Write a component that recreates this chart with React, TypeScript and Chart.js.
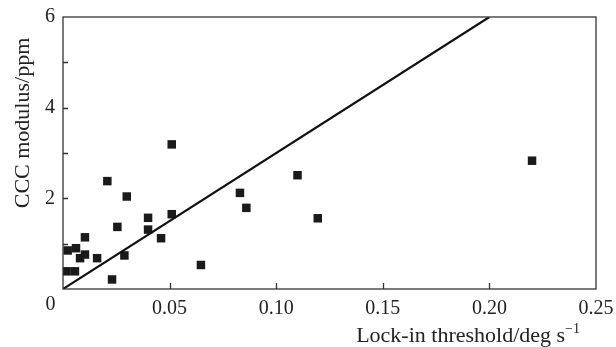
import React, { useEffect, useRef } from "react";
import { Chart, registerables } from "chart.js";

Chart.register(...registerables);

const lockInThreshold = [
  0.0022, 0.0061, 0.0017, 0.0056, 0.0103, 0.008, 0.0103, 0.016, 0.0208, 0.023,
  0.0255, 0.0288, 0.0299, 0.0399, 0.0399, 0.046, 0.051, 0.051, 0.0647, 0.083,
  0.086, 0.11, 0.1195, 0.22,
];
const cccModulus = [
  0.85, 0.9, 0.39, 0.39, 1.14, 0.68, 0.76, 0.68, 2.38, 0.21,
  1.37, 0.74, 2.04, 1.57, 1.31, 1.12, 3.19, 1.65, 0.53, 2.12,
  1.79, 2.51, 1.56, 2.83,
];
const fitLineX = [0, 0.2];
const fitLineY = [0, 6];
const xTickValues = [0.05, 0.1, 0.15, 0.2, 0.25];
const yLabelValues = [2, 4, 6];
const yTickMarks = [1, 2, 3, 4, 5];
const xTickMarks = [0.05, 0.1, 0.15, 0.2];
const xTitle = "Lock-in threshold/deg s";
const xTitleSup = "\u22121";
const yTitle = "CCC modulus/ppm";

const FONT = "'Liberation Serif', 'Times New Roman', serif";
const INK = "#1a1a1a";

const framePlugin = {
  id: "frame",
  afterDraw(chart: any) {
    const { ctx, chartArea: a, scales } = chart;
    const xs = scales.x;
    const ys = scales.y;
    ctx.save();
    ctx.strokeStyle = "#333";
    ctx.lineWidth = 1.3;
    ctx.strokeRect(a.left, a.top, a.right - a.left, a.bottom - a.top);
    ctx.beginPath();
    for (const v of yTickMarks) {
      const y = Math.round(ys.getPixelForValue(v)) + 0.5;
      ctx.moveTo(a.left, y);
      ctx.lineTo(a.left + 5, y);
    }
    for (const v of xTickMarks) {
      const x = Math.round(xs.getPixelForValue(v)) + 0.5;
      ctx.moveTo(x, a.bottom);
      ctx.lineTo(x, a.bottom - 6);
    }
    ctx.stroke();

    ctx.fillStyle = "#222";
    ctx.font = `20px ${FONT}`;
    ctx.textAlign = "center";
    ctx.textBaseline = "middle";
    ctx.fillText("0", a.left - 12.5, a.bottom + 16);

    // y title
    ctx.save();
    ctx.translate(23, 123);
    ctx.rotate(-Math.PI / 2);
    ctx.font = `22px ${FONT}`;
    ctx.textAlign = "center";
    ctx.textBaseline = "middle";
    ctx.fillText(yTitle, 0, 0);
    ctx.restore();

    // x title
    ctx.font = `22px ${FONT}`;
    const mainW = ctx.measureText(xTitle).width;
    ctx.font = `14px ${FONT}`;
    const supW = ctx.measureText(xTitleSup).width;
    const right = 580;
    const base = 342;
    ctx.textAlign = "left";
    ctx.textBaseline = "alphabetic";
    ctx.font = `22px ${FONT}`;
    ctx.fillText(xTitle, right - supW - mainW, base);
    ctx.font = `14px ${FONT}`;
    ctx.fillText(xTitleSup, right - supW, base - 9);
    ctx.restore();
  },
};

export default function App() {
  const ref = useRef<HTMLCanvasElement | null>(null);
  useEffect(() => {
    document.body.style.margin = "0";
    const canvas = ref.current!;
    const chart = new Chart(canvas, {
      type: "scatter",
      data: {
        datasets: [
          {
            type: "line",
            data: fitLineX.map((x, i) => ({ x, y: fitLineY[i] })),
            borderColor: "#111",
            borderWidth: 2.2,
            pointRadius: 0,
            fill: false,
          } as any,
          {
            data: lockInThreshold.map((x, i) => ({ x, y: cccModulus[i] })),
            pointStyle: "rect",
            pointRadius: 6,
            backgroundColor: INK,
            borderColor: INK,
            borderWidth: 0,
          },
        ],
      },
      options: {
        animation: false,
        responsive: false,
        layout: { padding: { top: 17, right: 20, left: 0, bottom: 0 } },
        plugins: { legend: { display: false }, tooltip: { enabled: false } },
        scales: {
          x: {
            type: "linear",
            min: 0,
            max: 0.25,
            border: { display: false },
            grid: { display: false, drawTicks: false },
            afterBuildTicks: (s: any) => {
              s.ticks = xTickValues.map((v) => ({ value: v }));
            },
            afterFit: (s: any) => {
              s.height = 58;
              s.paddingRight = 0;
              s.paddingLeft = 0;
            },
            ticks: {
              padding: 8,
              color: "#222",
              font: { family: FONT, size: 20 },
              maxRotation: 0,
              autoSkip: false,
              callback: (v: any) => Number(v).toFixed(2),
            },
          },
          y: {
            type: "linear",
            min: 0,
            max: 6,
            border: { display: false },
            grid: { display: false, drawTicks: false },
            afterBuildTicks: (s: any) => {
              s.ticks = yLabelValues.map((v) => ({ value: v }));
            },
            afterFit: (s: any) => {
              s.width = 63;
              s.paddingTop = 0;
              s.paddingBottom = 0;
            },
            ticks: {
              padding: 8,
              color: "#222",
              font: { family: FONT, size: 20 },
              callback: (v: any) => String(v),
            },
          },
        },
      },
      plugins: [framePlugin],
    });
    return () => chart.destroy();
  }, []);
  return <canvas ref={ref} width={616} height={347} style={{ display: "block" }} />;
}
